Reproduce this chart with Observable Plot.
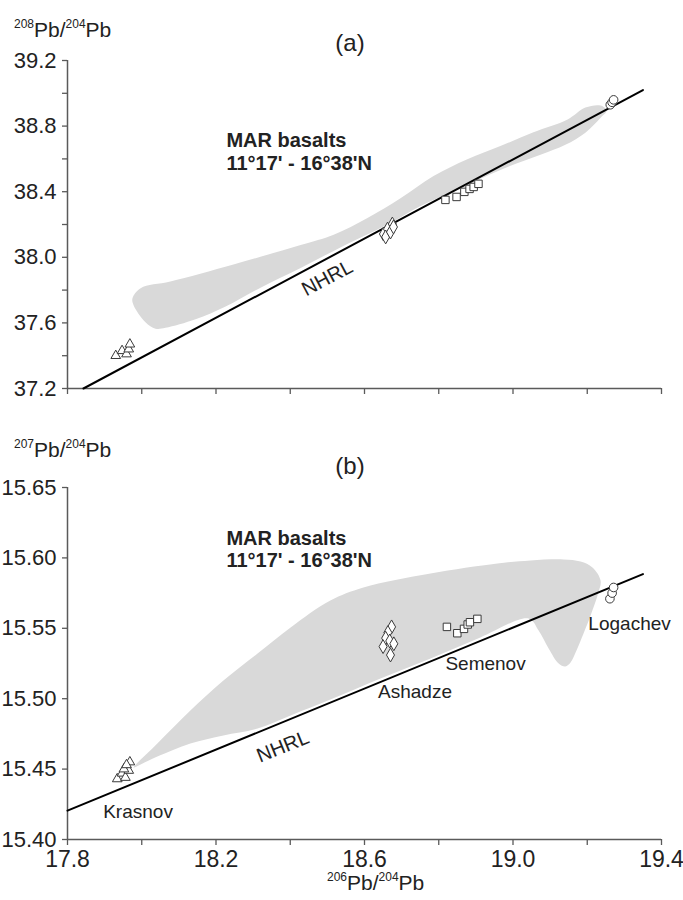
<!DOCTYPE html>
<html>
<head>
<meta charset="utf-8">
<script src="https://cdn.jsdelivr.net/npm/d3@7"></script>
<script src="https://cdn.jsdelivr.net/npm/@observablehq/plot@0.6"></script>
<style>
  body { margin: 0; background: #fff; }
  #wrap { position: relative; width: 683px; height: 900px; background: #fff;
          font-family: "Liberation Sans", Arial, sans-serif; color: #222; overflow: hidden; }
  .lbl { position: absolute; z-index: 2; white-space: nowrap; font-size: 21px; line-height: 21px; }
  .lbl sup { font-size: 12px; position: relative; top: -9px; vertical-align: baseline; }
  .panel { position: absolute; z-index: 2; white-space: nowrap; font-size: 24px; line-height: 24px; transform: translate(-50%, -50%); }
  .chart { position: absolute; left: 0; z-index: 1; }
</style>
</head>
<body>
<div id="wrap">
  <div id="chartA" class="chart" style="top:0"></div>
  <div id="chartB" class="chart" style="top:400px"></div>
  <div class="lbl" style="left:14px;top:19px"><sup>208</sup>Pb/<sup>204</sup>Pb</div>
  <div class="panel" style="left:350px;top:43px">(a)</div>
  <div class="lbl" style="left:14px;top:439px"><sup>207</sup>Pb/<sup>204</sup>Pb</div>
  <div class="panel" style="left:350px;top:466px">(b)</div>
  <div class="lbl" style="left:327px;top:872px"><sup>206</sup>Pb/<sup>204</sup>Pb</div>
</div>
<script>
// ---------- axis ticks ----------
const xTicks = [17.8, 18.0, 18.2, 18.4, 18.6, 18.8, 19.0, 19.2, 19.4];
const xTickLabels = ["17.8", "", "18.2", "", "18.6", "", "19.0", "", "19.4"];
const yTicksA = [37.2, 37.4, 37.6, 37.8, 38.0, 38.2, 38.4, 38.6, 38.8, 39.0, 39.2];
const yTickLabelsA = ["37.2", "", "37.6", "", "38.0", "", "38.4", "", "38.8", "", "39.2"];
const yTicksB = [15.40, 15.45, 15.50, 15.55, 15.60, 15.65];
const yTickLabelsB = ["15.40", "15.45", "15.50", "15.55", "15.60", "15.65"];

// ---------- NHRL reference line endpoints ----------
const nhrlXA = [17.843, 19.35];
const nhrlYA = [37.2, 39.02];
const nhrlXB = [17.8, 19.35];
const nhrlYB = [15.4205, 15.5885];

// ---------- MAR basalts field, panel (a): 206Pb/204Pb, 208Pb/204Pb ----------
const fieldXA = [17.975, 17.997, 18.077, 18.247, 18.428, 18.517, 18.608, 18.697, 18.786, 18.877, 18.966, 19.055, 19.147, 19.195, 19.236, 19.252,
                 19.236, 19.195, 19.141, 19.074, 18.966, 18.859, 18.751, 18.670, 18.616, 18.535, 18.428, 18.320, 18.226, 18.145, 18.064, 18.037, 18.010, 17.978];
const fieldYA = [37.750, 37.812, 37.852, 37.956, 38.075, 38.138, 38.240, 38.360, 38.495, 38.598, 38.678, 38.762, 38.840, 38.913, 38.925, 38.894,
                 38.851, 38.760, 38.686, 38.625, 38.533, 38.423, 38.313, 38.209, 38.148, 38.060, 37.935, 37.815, 37.700, 37.622, 37.570, 37.565, 37.604, 37.708];

// ---------- MAR basalts field, panel (b): 206Pb/204Pb, 207Pb/204Pb ----------
const fieldXB = [17.978, 18.042, 18.131, 18.220, 18.312, 18.401, 18.508, 18.597, 18.778, 18.958, 19.047, 19.136, 19.182, 19.214, 19.236,
                 19.230, 19.209, 19.190, 19.171, 19.155, 19.141, 19.123, 19.096, 19.069, 19.042,
                 18.912, 18.778, 18.643, 18.508, 18.401, 18.312, 18.220, 18.131, 18.042, 17.997];
const fieldYB = [15.4511, 15.4682, 15.4916, 15.5129, 15.5321, 15.5506, 15.5697, 15.5790, 15.5889, 15.5960, 15.5982, 15.5989, 15.5974, 15.5932, 15.5839,
                 15.5754, 15.5591, 15.5463, 15.5342, 15.5257, 15.5229, 15.5250, 15.5357, 15.5484, 15.5570,
                 15.5435, 15.5286, 15.5143, 15.4994, 15.4881, 15.4788, 15.4739, 15.4682, 15.4589, 15.4533];

// ---------- samples, panel (a) ----------
const krasnovXA = [17.930, 17.947, 17.959, 17.965, 17.968];
const krasnovYA = [37.40, 37.43, 37.41, 37.44, 37.47];
const ashadzeXA = [18.651, 18.662, 18.675, 18.657, 18.670, 18.678];
const ashadzeYA = [38.142, 38.172, 38.203, 38.124, 38.154, 38.185];
const semenovXA = [18.818, 18.848, 18.869, 18.883, 18.894, 18.907];
const semenovYA = [38.350, 38.368, 38.399, 38.417, 38.429, 38.448];
const logachevXA = [19.262, 19.267, 19.271];
const logachevYA = [38.930, 38.945, 38.960];

// ---------- samples, panel (b) ----------
const krasnovXB = [17.934, 17.947, 17.956, 17.965, 17.952, 17.968, 17.959];
const krasnovYB = [15.443, 15.447, 15.444, 15.449, 15.450, 15.455, 15.453];
const ashadzeXB = [18.673, 18.663, 18.657, 18.668, 18.679, 18.650, 18.670];
const ashadzeYB = [15.551, 15.547, 15.543, 15.541, 15.539, 15.537, 15.531];
const semenovXB = [18.822, 18.850, 18.868, 18.878, 18.884, 18.904];
const semenovYB = [15.551, 15.5465, 15.5496, 15.5527, 15.5543, 15.5567];
const logachevXB = [19.261, 19.267, 19.271];
const logachevYB = [15.571, 15.575, 15.579];

// ---------- annotations ----------
const fieldLabel = ["MAR basalts", "11°17' - 16°38'N"];
const fieldLabelXA = [18.228, 18.228];
const fieldLabelYA = [38.711, 38.573];
const fieldLabelXB = [18.228, 18.228];
const fieldLabelYB = [15.6138, 15.5981];
const nhrlLabel = "NHRL";
const nhrlLabelA = {x: 18.500, y: 37.873};
const nhrlLabelB = {x: 18.380, y: 15.4660};
const siteNames = ["Krasnov", "Ashadze", "Semenov", "Logachev"];
const siteLabelX = [17.990, 18.736, 18.926, 19.314];
const siteLabelY = [15.4195, 15.505, 15.525, 15.5534];

// ---------- helpers ----------
const zip = (xs, ys) => xs.map((x, i) => ({x, y: ys[i]}));
const fmt = (ticks, labels) => { const m = new Map(ticks.map((t, i) => [t, labels[i]])); return d => m.get(d) ?? ""; };
const FONT = "'Liberation Sans', Arial, sans-serif";
const AXIS = "#5a5a5a";
const FIELD = "#d9d9d9";
const MSTROKE = "#3a3a3a";
const dotOpts = (symbol, r) => ({x: "x", y: "y", symbol, r, fill: "white", stroke: MSTROKE, strokeWidth: 1});

function samples(kx, ky, ax, ay, sx, sy, lx, ly) {
  return [
    Plot.dot(zip(kx, ky), dotOpts("triangle", 3.6)),
    Plot.dot(zip(ax, ay), dotOpts("diamond", 4.2)),
    Plot.dot(zip(sx, sy), dotOpts("square", 4.2)),
    Plot.dot(zip(lx, ly), dotOpts("circle", 4.3))
  ];
}

// ---------- panel (a) ----------
const chartA = Plot.plot({
  width: 683, height: 400,
  marginLeft: 67, marginRight: 22, marginTop: 60, marginBottom: 12,
  x: {domain: [17.8, 19.4], label: null},
  y: {domain: [37.2, 39.2], label: null},
  style: {fontFamily: FONT, fontSize: "22px", color: "#222", background: "transparent", overflow: "visible"},
  marks: [
    Plot.line(zip(fieldXA, fieldYA), {x: "x", y: "y", fill: FIELD, stroke: "none", curve: "catmull-rom-closed"}),
    Plot.axisX({ticks: xTicks, tickSize: 6, tickFormat: () => "", stroke: AXIS, strokeWidth: 1.3}),
    Plot.axisY({ticks: yTicksA, tickSize: 5, tickPadding: 6, tickFormat: fmt(yTicksA, yTickLabelsA), stroke: AXIS, strokeWidth: 1.3, fill: "#222"}),
    Plot.ruleX([17.8], {stroke: AXIS, strokeWidth: 1.5}),
    Plot.ruleY([37.2], {stroke: AXIS, strokeWidth: 1.5}),
    Plot.line(zip(nhrlXA, nhrlYA), {x: "x", y: "y", stroke: "black", strokeWidth: 2}),
    ...samples(krasnovXA, krasnovYA, ashadzeXA, ashadzeYA, semenovXA, semenovYA, logachevXA, logachevYA),
    Plot.text(fieldLabel, {x: (d, i) => fieldLabelXA[i], y: (d, i) => fieldLabelYA[i], text: d => d, textAnchor: "start", fontSize: 20, fontWeight: "bold", fill: "#222"}),
    Plot.text([nhrlLabelA], {x: "x", y: "y", text: () => nhrlLabel, rotate: -28, fontSize: 20, fill: "#222"})
  ]
});
document.getElementById("chartA").append(chartA);

// ---------- panel (b) ----------
const chartB = Plot.plot({
  width: 683, height: 500,
  marginLeft: 67, marginRight: 22, marginTop: 87, marginBottom: 61,
  x: {domain: [17.8, 19.4], label: null},
  y: {domain: [15.40, 15.65], label: null},
  style: {fontFamily: FONT, fontSize: "22px", color: "#222", background: "transparent", overflow: "visible"},
  marks: [
    Plot.line(zip(fieldXB, fieldYB), {x: "x", y: "y", fill: FIELD, stroke: "none", curve: "catmull-rom-closed"}),
    Plot.axisX({ticks: xTicks, tickSize: 6, tickPadding: 5, tickFormat: fmt(xTicks, xTickLabels), stroke: AXIS, strokeWidth: 1.3, fill: "#222", fontSize: 23}),
    Plot.axisY({ticks: yTicksB, tickSize: 5, tickPadding: 6, tickFormat: fmt(yTicksB, yTickLabelsB), stroke: AXIS, strokeWidth: 1.3, fill: "#222"}),
    Plot.ruleX([17.8], {stroke: AXIS, strokeWidth: 1.5}),
    Plot.ruleY([15.40], {stroke: AXIS, strokeWidth: 1.5}),
    Plot.line(zip(nhrlXB, nhrlYB), {x: "x", y: "y", stroke: "black", strokeWidth: 2}),
    ...samples(krasnovXB, krasnovYB, ashadzeXB, ashadzeYB, semenovXB, semenovYB, logachevXB, logachevYB),
    Plot.text(fieldLabel, {x: (d, i) => fieldLabelXB[i], y: (d, i) => fieldLabelYB[i], text: d => d, textAnchor: "start", fontSize: 20, fontWeight: "bold", fill: "#222"}),
    Plot.text([nhrlLabelB], {x: "x", y: "y", text: () => nhrlLabel, rotate: -22, fontSize: 20, fill: "#222"}),
    Plot.text(siteNames, {x: (d, i) => siteLabelX[i], y: (d, i) => siteLabelY[i], text: d => d, textAnchor: "middle", fontSize: 19, fill: "#222"})
  ]
});
document.getElementById("chartB").append(chartB);
</script>
</body>
</html>
